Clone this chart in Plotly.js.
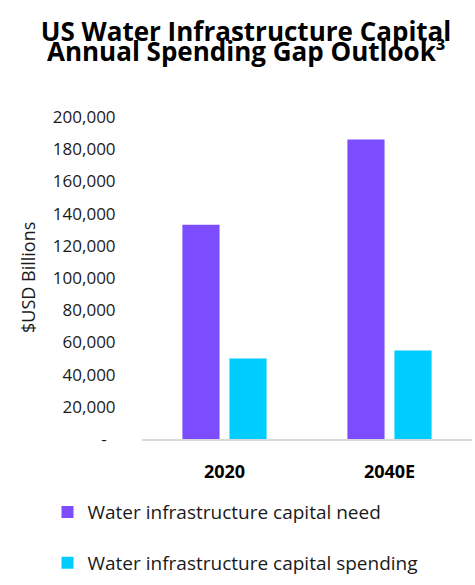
<!DOCTYPE html>
<html>
<head>
<meta charset="utf-8">
<script src="https://cdn.plot.ly/plotly-3.0.1.min.js"></script>
<style>html,body{margin:0;padding:0;background:#fff;}#chart{width:475px;height:585px;}</style>
</head>
<body>
<div id="chart"></div>
<script>
var categories = ["2020", "2040E"];
var needValues = [133000, 186000];
var spendingValues = [50000, 55000];
var seriesNames = ["Water infrastructure capital need", "Water infrastructure capital spending"];
var yTickVals = [0, 20000, 40000, 60000, 80000, 100000, 120000, 140000, 160000, 180000, 200000];
var yTickText = ["-\u00a0\u00a0", "20,000", "40,000", "60,000", "80,000", "100,000", "120,000", "140,000", "160,000", "180,000", "200,000"];
var titleLine1 = "US Water Infrastructure Capital";
var titleLine2 = "Annual Spending Gap Outlook³";
var yTitle = "$USD Billions";

var FONT = "Open Sans, sans-serif";

var traces = [
  {type: "bar", x: categories, y: needValues, name: seriesNames[0], legendgroup: "a",
   marker: {color: "#7B4DFF"}, hoverinfo: "skip"},
  {type: "bar", x: categories, y: spendingValues, name: seriesNames[1], legendgroup: "b",
   marker: {color: "#00CCFF"}, hoverinfo: "skip"}
];

var layout = {
  width: 475, height: 585,
  margin: {l: 142, r: 3, t: 117, b: 146, autoexpand: false},
  paper_bgcolor: "#fff", plot_bgcolor: "#fff",
  font: {family: FONT, color: "#1a1a1a"},
  title: {
    text: "<b>" + titleLine1 + "</b>",
    font: {family: FONT, size: 26, color: "#000"},
    xref: "container", x: 0.518, xanchor: "center",
    yref: "container", y: 1 - 41 / 585, yanchor: "bottom"
  },
  annotations: [
    {text: "<b>" + titleLine2 + "</b>", xref: "paper", yref: "paper",
     x: (246 - 142) / 330, y: (439 - 71) / 322, xanchor: "center", yanchor: "bottom",
     showarrow: false, font: {family: FONT, size: 26, color: "#000"}},
    {text: yTitle, xref: "paper", yref: "paper",
     x: (28 - 142) / 330, y: 0.5, xanchor: "center", yanchor: "middle",
     textangle: -90, showarrow: false, font: {family: FONT, size: 18, color: "#1a1a1a"}}
  ],
  barmode: "group",
  bargap: 0.43,
  bargroupgap: 0.21,
  showlegend: true,
  legend: {
    orientation: "v",
    xref: "container", yref: "container",
    x: 0.1, y: 0.157, xanchor: "left", yanchor: "top",
    traceorder: "grouped", tracegroupgap: 23,
    font: {family: FONT, size: 19, color: "#1a1a1a"},
    bgcolor: "rgba(0,0,0,0)", borderwidth: 0
  },
  xaxis: {
    type: "category",
    showgrid: false, zeroline: false,
    showline: true, linecolor: "#d9d9d9", linewidth: 1.5,
    ticks: "outside", ticklen: 16, tickcolor: "rgba(0,0,0,0)",
    tickangle: 0,
    tickfont: {family: FONT, size: 18, color: "#000", weight: "bold"},
    fixedrange: true
  },
  yaxis: {
    range: [0, 200000],
    tickvals: yTickVals, ticktext: yTickText,
    showgrid: false, zeroline: false, showline: false,
    ticks: "outside", ticklen: 22, tickcolor: "rgba(0,0,0,0)",
    tickfont: {family: FONT, size: 17, color: "#1a1a1a"},
    fixedrange: true
  }
};

Plotly.newPlot("chart", traces, layout, {displayModeBar: false, staticPlot: true});
</script>
</body>
</html>
